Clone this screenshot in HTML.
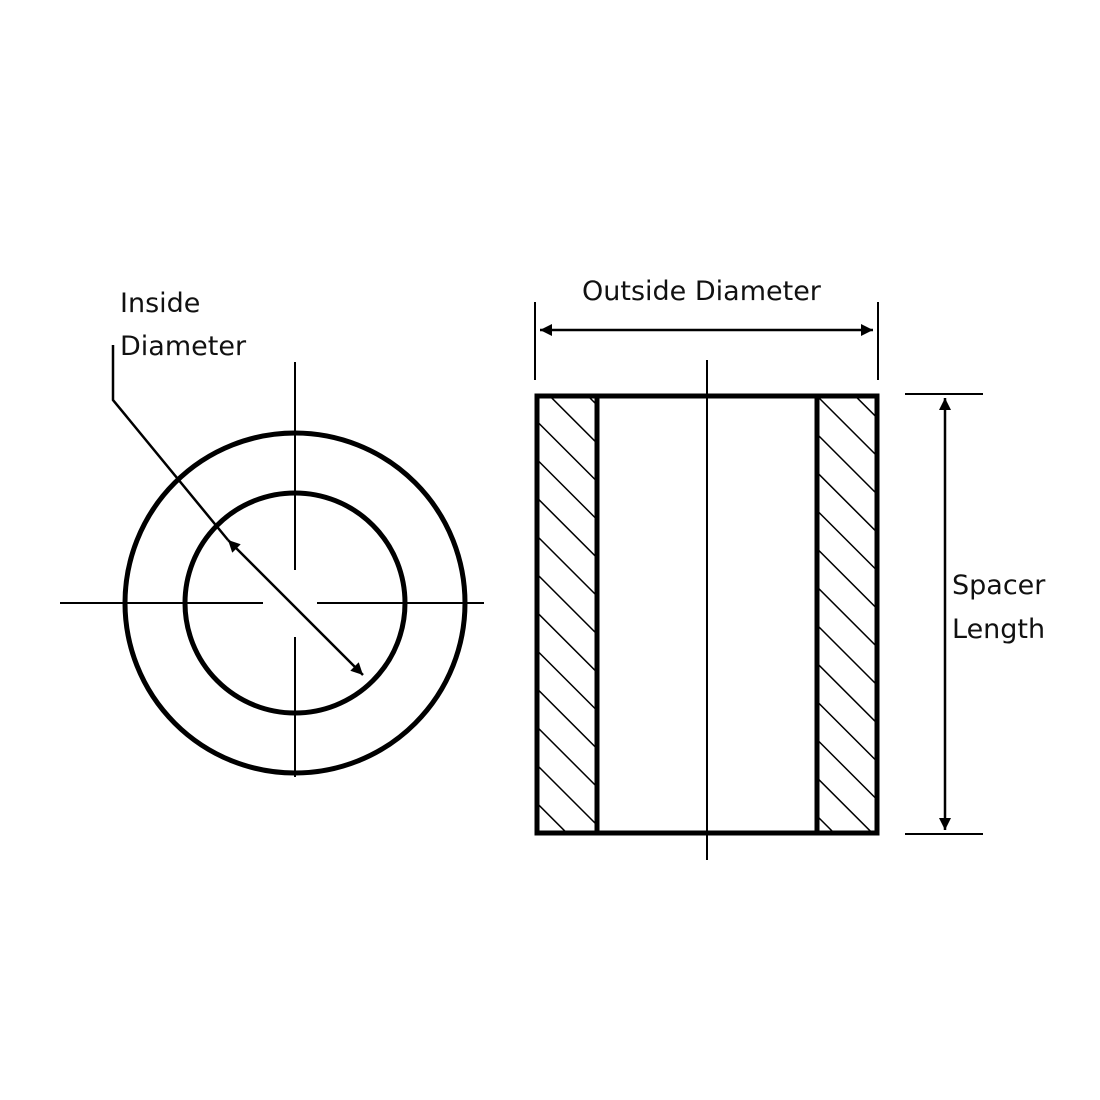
<!DOCTYPE html>
<html><head><style>body{margin:0;background:#fff}svg{display:block}text{font-family:"DejaVu Sans","Liberation Sans",sans-serif;font-size:27px;fill:#111}</style></head>
<body>
<svg width="1100" height="1100" viewBox="0 0 1100 1100" xmlns="http://www.w3.org/2000/svg">
<defs>
<pattern id="h" patternUnits="userSpaceOnUse" width="27" height="27" patternTransform="rotate(-45)">
<line x1="0" y1="0" x2="0" y2="27" stroke="#000" stroke-width="3"/>
</pattern>
<marker id="a" viewBox="0 0 10 10" refX="10" refY="5" markerWidth="20" markerHeight="12" markerUnits="userSpaceOnUse" orient="auto-start-reverse"><path d="M0,0L10,5L0,10z" fill="#000"/></marker>
</defs>
<rect width="1100" height="1100" fill="#fff"/>
<circle cx="295" cy="603" r="170" fill="none" stroke="#000" stroke-width="5"/>
<circle cx="295" cy="603" r="110" fill="none" stroke="#000" stroke-width="5"/>
<g stroke="#000" stroke-width="2">
<line x1="295" y1="362" x2="295" y2="570"/>
<line x1="295" y1="637" x2="295" y2="777"/>
<line x1="60" y1="603" x2="263" y2="603"/>
<line x1="317" y1="603" x2="484" y2="603"/>
</g>
<polyline points="113,345 113,400 228,540" fill="none" stroke="#000" stroke-width="2.5"/>
<line x1="228" y1="540" x2="363" y2="675" stroke="#000" stroke-width="2.5" marker-start="url(#a)" marker-end="url(#a)"/>
<text x="120" y="312">Inside</text>
<text x="120" y="355">Diameter</text>
<rect x="537" y="396" width="60" height="437" fill="url(#h)"/>
<rect x="817" y="396" width="60" height="437" fill="url(#h)"/>
<rect x="537" y="396" width="340" height="437" fill="none" stroke="#000" stroke-width="5"/>
<line x1="597" y1="396" x2="597" y2="833" stroke="#000" stroke-width="5"/>
<line x1="817" y1="396" x2="817" y2="833" stroke="#000" stroke-width="5"/>
<line x1="707" y1="360" x2="707" y2="860" stroke="#000" stroke-width="2"/>
<g stroke="#000" stroke-width="2">
<line x1="535" y1="302" x2="535" y2="380"/>
<line x1="878" y1="302" x2="878" y2="380"/>
<line x1="905" y1="394" x2="983" y2="394"/>
<line x1="905" y1="834" x2="983" y2="834"/>
</g>
<line x1="540" y1="330" x2="873" y2="330" stroke="#000" stroke-width="2.5" marker-start="url(#a)" marker-end="url(#a)"/>
<line x1="945" y1="398" x2="945" y2="830" stroke="#000" stroke-width="2.5" marker-start="url(#a)" marker-end="url(#a)"/>
<text x="582" y="300">Outside Diameter</text>
<text x="952" y="594">Spacer</text>
<text x="952" y="638">Length</text>
</svg>
</body></html>
